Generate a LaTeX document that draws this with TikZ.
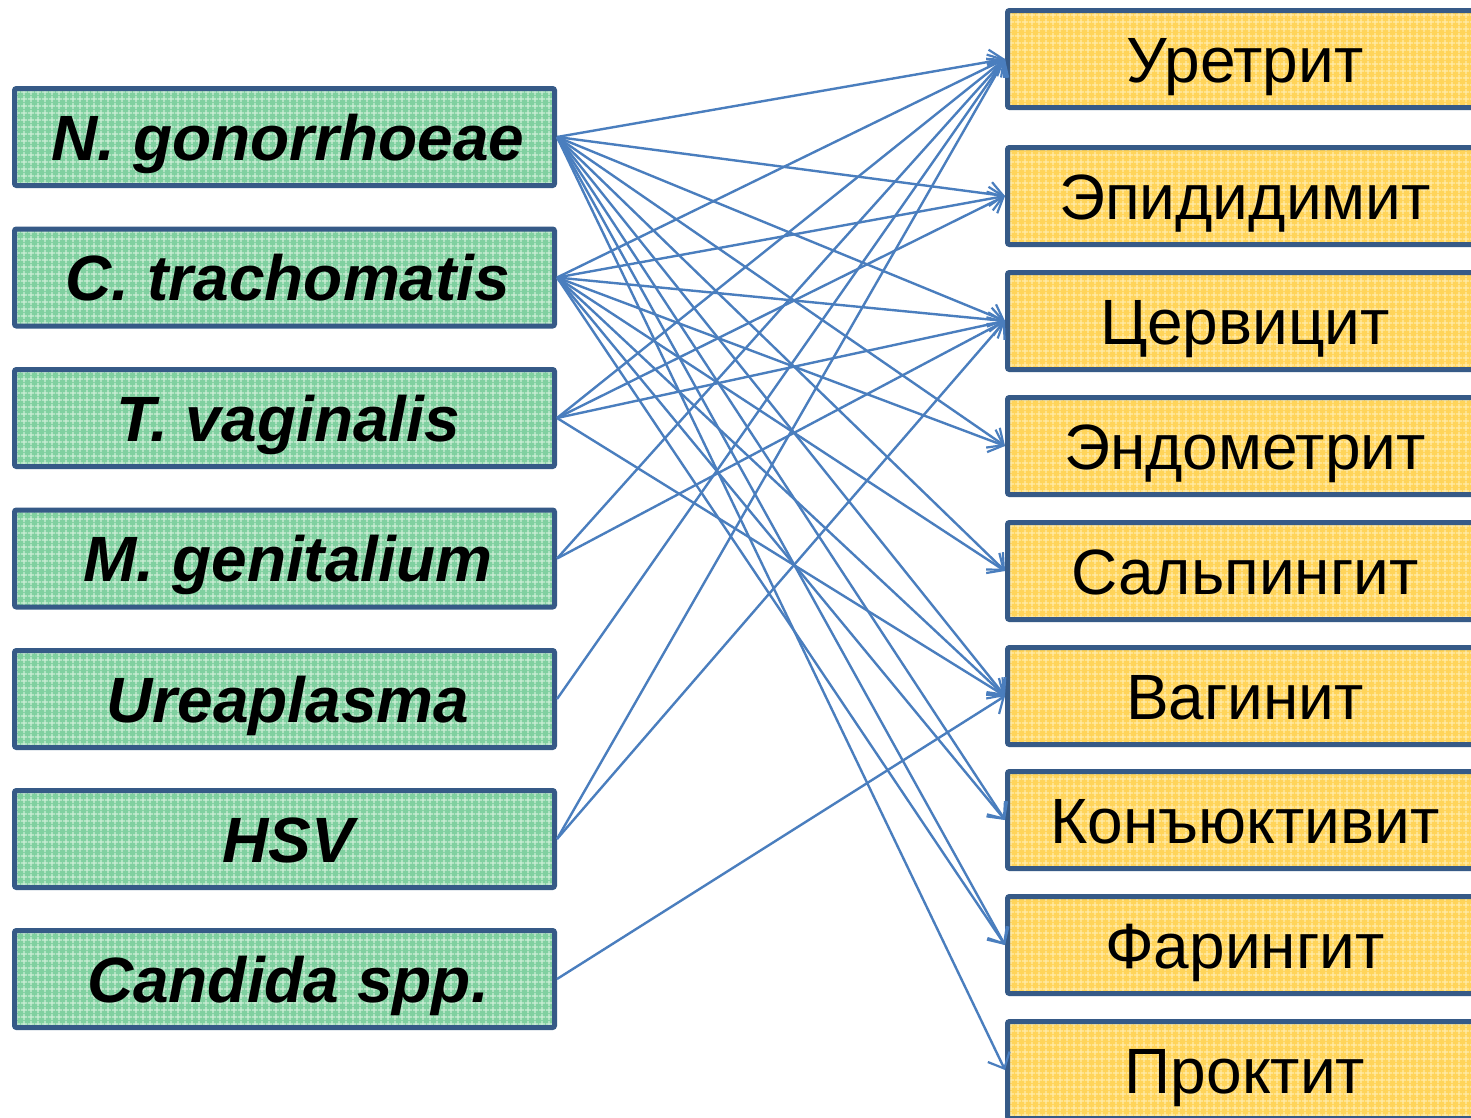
\documentclass[tikz,border=0pt]{standalone}
\usepackage{fontspec}
\setmainfont{Liberation Sans}
\usetikzlibrary{arrows.meta,patterns.meta}
\definecolor{bord}{RGB}{54,90,135}
\definecolor{linkc}{RGB}{74,126,190}
\definecolor{greenfill}{RGB}{128,208,160}
\definecolor{greengrid}{RGB}{205,238,215}
\definecolor{yellowfill}{RGB}{255,212,90}
\definecolor{yellowgrid}{RGB}{255,236,170}
\tikzdeclarepattern{
  name=finegrid,
  type=uncolored,
  bottom left={(0pt,0pt)},
  top right={(7pt,7pt)},
  tile size={(7pt,7pt)},
  code={\draw[line width=1.4pt] (0pt,3.5pt) -- (7pt,3.5pt) (3.5pt,0pt) -- (3.5pt,7pt);}
}
\begin{document}
\begin{tikzpicture}[x=1pt,y=-1pt,
  src/.style={draw=bord, line width=5pt, rounded corners=2pt,
    preaction={fill=greenfill},
    preaction={pattern=finegrid, pattern color=greengrid},
    minimum width=540pt, minimum height=97pt, inner sep=0pt,
    text height=46pt, text depth=0pt,
    execute at begin node=\hspace*{7pt},
    font=\fontsize{64}{70}\selectfont\bfseries\itshape},
  dst/.style={draw=bord, line width=5pt, rounded corners=2pt,
    preaction={fill=yellowfill},
    preaction={pattern=finegrid, pattern color=yellowgrid},
    minimum width=482pt, minimum height=97pt, inner sep=0pt,
    text height=46pt, text depth=0pt,
    execute at end node=\hspace*{7pt},
    font=\fontsize{64}{70}\selectfont},
  link/.style={draw=linkc, line width=2.4pt, -{Straight Barb[length=13pt,width=24pt,line width=2.2pt]}}]
\useasboundingbox (0,0) rectangle (1471,1117);
\clip (0,0) rectangle (1471,1117);
\fill[white] (0,0) rectangle (1471,1117);

\node[src] (ng)  at (284.5,137)   {N. gonorrhoeae};
\node[src] (ct)  at (284.5,277.5) {C. trachomatis};
\node[src] (tv)  at (284.5,418)   {T. vaginalis};
\node[src] (mg)  at (284.5,558.5) {M. genitalium};
\node[src] (ua)  at (284.5,699)   {Ureaplasma};
\node[src] (hsv) at (284.5,839)   {HSV};
\node[src] (ca)  at (284.5,979)   {Candida spp.};

\node[dst] (ur) at (1248.5,59)   {Уретрит};
\node[dst] (ep) at (1248.5,196)  {Эпидидимит};
\node[dst] (ce) at (1248.5,321)  {Цервицит};
\node[dst] (en) at (1248.5,446)  {Эндометрит};
\node[dst] (sa) at (1248.5,571)  {Сальпингит};
\node[dst] (va) at (1248.5,696)  {Вагинит};
\node[dst] (ko) at (1248.5,820)  {Конъюктивит};
\node[dst] (fa) at (1248.5,945)  {Фарингит};
\node[dst] (pr) at (1248.5,1070) {Проктит};

\foreach \t in {ur,ep,ce,en,sa,va,ko,fa,pr} \draw[link] (ng.east) -- (\t.west);
\foreach \t in {ur,ep,ce,en,sa,va,ko,fa} \draw[link] (ct.east) -- (\t.west);
\foreach \t in {ur,ep,ce,va} \draw[link] (tv.east) -- (\t.west);
\foreach \t in {ur,ce} \draw[link] (mg.east) -- (\t.west);
\draw[link] (ua.east) -- (ur.west);
\foreach \t in {ur,ce} \draw[link] (hsv.east) -- (\t.west);
\draw[link] (ca.east) -- (va.west);
\end{tikzpicture}
\end{document}
